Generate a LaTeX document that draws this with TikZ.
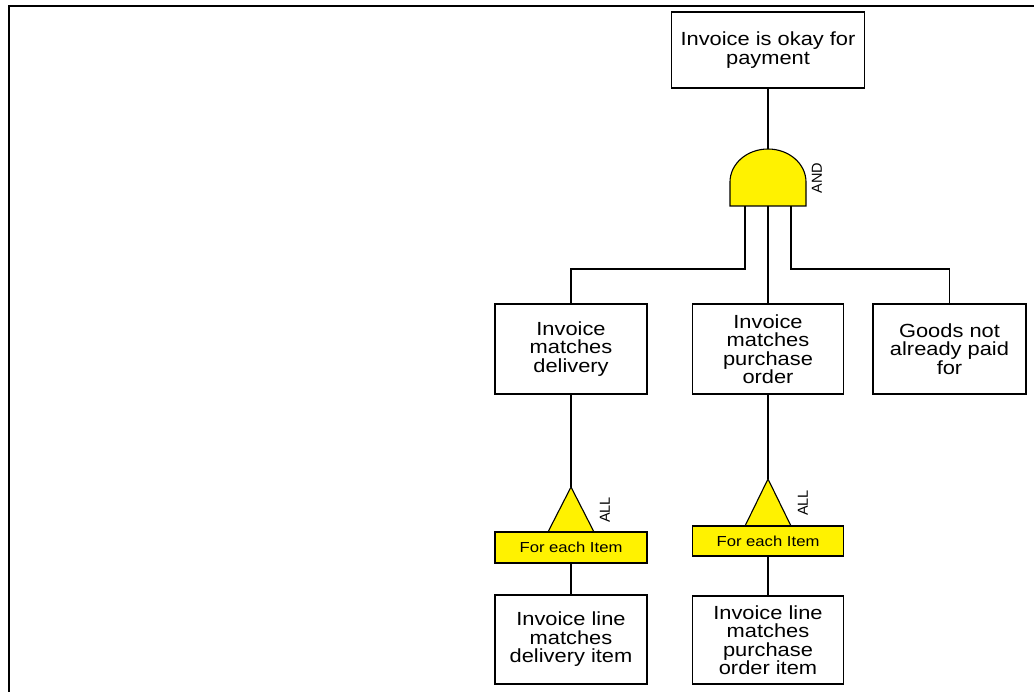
\documentclass[tikz,border=0pt]{standalone}
\usepackage{fontspec}
\setmainfont{Liberation Sans}[FakeStretch=1.15]
\newfontfamily\gatefont{Liberation Sans}
\usetikzlibrary{calc}

\tikzset{
	event/.style={draw, line width=1.1pt, fill=white, align=center, inner sep=0pt,
		minimum width=152pt, minimum height=90pt, font=\fontsize{19}{18.5}\selectfont},
	gatefill/.style={draw, line width=1.1pt, fill=yellow},
	eachbar/.style={gatefill, inner sep=0pt, minimum width=152pt, minimum height=31pt,
		font=\fontsize{14.5}{15}\selectfont},
	gatelabel/.style={rotate=90, inner sep=0pt, font=\gatefont\fontsize{14.5}{15}\selectfont},
	wire/.style={line width=1.1pt},
}

\begin{document}
\begin{tikzpicture}[x=1pt, y=1pt]
			%%%%% START %%%%%
			\useasboundingbox (0, 0) rectangle (1034, -692);
			\draw[line width=2.5pt] (9, -692) -- (9, -6) -- (1034, -6);
			
			% top event
			\node[event, minimum width=193pt, minimum height=76pt] (okay) at (768, -50) {Invoice is okay for\\payment};
			
			% AND gate
			\draw[gatefill] (730, -206) -- (730, -182) arc[start angle=180, end angle=0, x radius=38, y radius=33] -- (806, -206) -- cycle;
			\coordinate (andtop) at (768, -149);
			\coordinate (andl) at (745, -206);
			\coordinate (andm) at (768, -206);
			\coordinate (andr) at (791, -206);
			\node[gatelabel] (andlbl) at (817, -178) {AND};
			
			% middle events
			\node[event] (delivery) at (571, -349) {Invoice\\matches\\delivery};
			\node[event, minimum width=151pt] (order) at (768, -349) {Invoice\\matches\\purchase\\order};
			\node[event, minimum width=153pt] (paid) at (949.5, -349) {Goods not\\already paid\\for};
			
			% ALL gates
			\draw[gatefill] (571, -487) -- (594, -532) -- (548, -532) -- cycle;
			\coordinate (all1) at (571, -487);
			\node[gatelabel] (all1lbl) at (605, -510) {ALL};
			\node[eachbar] (each1) at (571, -547.5) {For each Item};
			
			\draw[gatefill] (768, -479) -- (791, -526) -- (745, -526) -- cycle;
			\coordinate (all2) at (768, -479);
			\node[gatelabel] (all2lbl) at (803, -503) {ALL};
			\node[eachbar, minimum width=151pt, minimum height=30pt] (each2) at (768, -541) {For each Item};
			
			% bottom events
			\node[event, minimum height=89pt] (lineitem) at (571, -639.5) {Invoice line\\matches\\delivery item};
			\node[event, minimum width=151pt, minimum height=88pt] (poitem) at (768, -640) {Invoice line\\matches\\purchase\\order item};
			
			% connectors
			\draw[wire] (okay.south) -- (andtop);
			\draw[wire] (andl) -- ++(0, -63) -| (delivery.north);
			\draw[wire] (andm) -- (order.north);
			\draw[wire] (andr) -- ++(0, -63) -| (paid.north);
			\draw[wire] (delivery.south) -- (all1);
			\draw[wire] (each1.south) -- (lineitem.north);
			\draw[wire] (order.south) -- (all2);
			\draw[wire] (each2.south) -- (poitem.north);
			%%%%% END %%%%%
\end{tikzpicture}
\end{document}
